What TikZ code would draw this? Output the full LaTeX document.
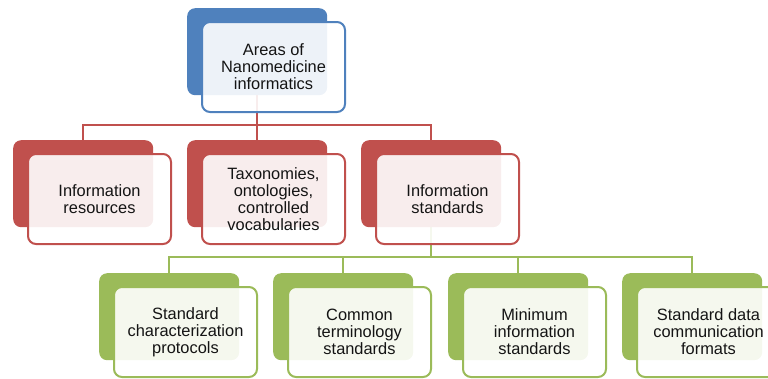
\documentclass[tikz,border=0pt]{standalone}
\usepackage{fontspec}
\setmainfont{Liberation Sans}
\usetikzlibrary{backgrounds}
\definecolor{cblue}{HTML}{4F81BD}
\definecolor{cred}{HTML}{C0504D}
\definecolor{cgreen}{HTML}{9BBB59}
\definecolor{ctext}{HTML}{141414}
\tikzset{
  backbox/.style={rectangle, rounded corners=8bp, fill=#1, draw=none,
    minimum width=140bp, minimum height=87bp, anchor=north west, inner sep=0pt},
  frontbox/.style={rectangle, rounded corners=8bp, draw=#1, line width=2bp,
    fill=white, fill opacity=0.9, text opacity=1, text=ctext,
    minimum width=143bp, minimum height=90bp, anchor=north west, inner sep=2bp,
    align=center, font=\fontsize{16.4bp}{17bp}\selectfont},
  link/.style={draw=#1, line width=2bp}
}
\begin{document}
\begin{tikzpicture}[x=1bp,y=-1bp]
\useasboundingbox (0,0) rectangle (768,378);
\clip (0,0) rectangle (768,378);
% top
\node[backbox=cblue] (tb) at (187,8) {};
\node[frontbox=cblue] (tf) at (201,21) {Areas of\\Nanomedicine\\informatics};
% red row
\node[backbox=cred] (rb1) at (13,140) {};
\node[frontbox=cred] (rf1) at (27,153) {Information\\resources};
\node[backbox=cred] (rb2) at (187,140) {};
\node[frontbox=cred] (rf2) at (201,153) {Taxonomies,\\ontologies,\\controlled\\vocabularies};
\node[backbox=cred] (rb3) at (361,140) {};
\node[frontbox=cred] (rf3) at (375,153) {Information\\standards};
% green row
\node[backbox=cgreen] (gb1) at (99,273) {};
\node[frontbox=cgreen] (gf1) at (113,286) {Standard\\characterization\\protocols};
\node[backbox=cgreen] (gb2) at (273,273) {};
\node[frontbox=cgreen] (gf2) at (287,286) {Common\\terminology\\standards};
\node[backbox=cgreen] (gb3) at (448,273) {};
\node[frontbox=cgreen] (gf3) at (462,286) {Minimum\\information\\standards};
\node[backbox=cgreen] (gb4) at (622,273) {};
\node[frontbox=cgreen] (gf4) at (636,286) {Standard data\\communication\\formats};
\coordinate (bus1) at (0,125);
\coordinate (bus2) at (0,257);
\begin{scope}[on background layer]
\draw[link=cred] (tb.south) |- (bus1 -| rb1.north) -- (rb1.north);
\draw[link=cred] (tb.south) |- (bus1 -| rb3.north) -- (rb3.north);
\draw[link=cred] (tb.south) -- (rb2.north);
\draw[link=cgreen] (rb3.south) |- (bus2 -| gb1.north) -- (gb1.north);
\draw[link=cgreen] (rb3.south) |- (bus2 -| gb4.north) -- (gb4.north);
\draw[link=cgreen] (bus2 -| gb2.north) -- (gb2.north);
\draw[link=cgreen] (bus2 -| gb3.north) -- (gb3.north);
\end{scope}
\end{tikzpicture}
\end{document}
